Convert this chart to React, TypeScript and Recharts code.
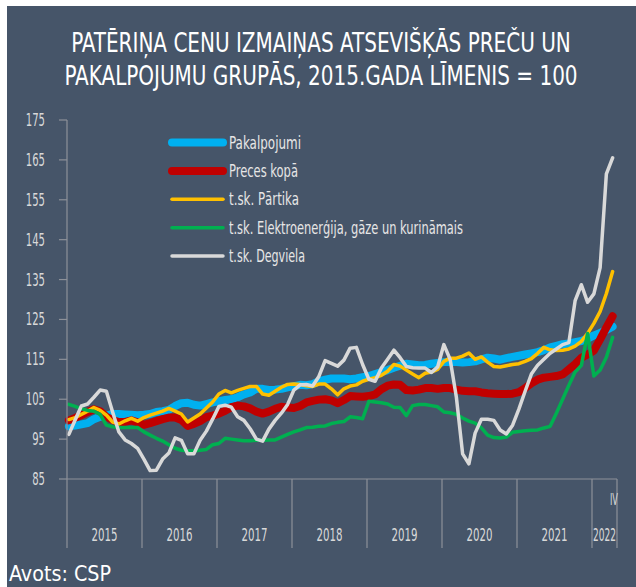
import React from 'react';
import { LineChart, Line, XAxis, YAxis } from 'recharts';

// monthly index, Jan 2015 .. Apr 2022 (2015 = 100)
const PAKALPOJUMI = [
  98.2, 98.4, 98.7, 99, 100, 100.6, 100.9, 101.3, 101.3, 101.2, 101.1, 101,
  101.1, 101.3, 101.8, 102, 102.3, 103.3, 104, 104.1, 103.6, 103.4, 103.8, 104.2,
  104.5, 104.8, 105, 105.5, 106.2, 106.7, 107.6, 107.6, 107.3, 107.4, 107.6, 108,
  108.3, 108.6, 108.5, 108.8, 109.5, 109.9, 110.2, 110.2, 110.2, 110, 110.2, 110.5,
  110.8, 111.3, 111.8, 112.3, 112.9, 113.4, 113.9, 113.7, 113.5, 113.6, 113.9, 114.1,
  114.3, 114.4, 114.3, 114.2, 114.3, 114.5, 115, 115.4, 115.2, 114.9, 115.3, 115.6,
  115.9, 116.2, 116.5, 116.8, 117.3, 118, 118.4, 118.8, 119, 119.3, 119.6, 120.2,
  121, 121.6, 122.4, 123.2,
];
const PRECES = [
  99.7, 100.3, 101, 101.8, 102.5, 102, 100.6, 99.8, 99.3, 99.3, 99.7, 99.2,
  98.6, 99, 99.5, 100, 100.4, 100.4, 99.8, 98.3, 98.8, 99.5, 100.5, 100.9,
  101.4, 102.1, 103, 103.4, 103.2, 102.7, 101.9, 101.4, 101.9, 102.6, 103.1, 102.9,
  102.8, 103.3, 104.2, 104.6, 104.9, 105, 104.7, 104, 104.8, 105.8, 105.7, 105.6,
  105.8, 106.2, 107.5, 108.4, 108.7, 108.6, 107.3, 107.2, 107.4, 107.8, 107.8, 107.6,
  107.8, 107.8, 107.4, 107.1, 107, 107, 106.7, 106.5, 106.4, 106.3, 106.3, 106.4,
  106.8, 107.8, 109, 109.9, 110.4, 110.6, 110.8, 111.2, 112.5, 113.8, 115.4, 116.2,
  117.2, 120, 123, 125.8,
];
const PARTIKA = [
  99.9, 100.4, 101.2, 102, 102.9, 102.2, 101, 99.3, 98.8, 99.6, 100.2, 99.5,
  100.4, 101, 101.5, 102, 102.7, 102, 101.3, 99.3, 100.3, 101.3, 102.8, 104.3,
  106.3, 107.2, 106.6, 107.2, 107.7, 108.2, 108.2, 106.3, 106, 107, 108, 108.7,
  108.8, 108.7, 108.4, 108.2, 108.8, 108.8, 107.6, 106.1, 107.6, 108.3, 108.6, 109.5,
  110, 110.4, 111, 112, 113.7, 113.3, 112.3, 111.3, 110.4, 111.5, 111.8, 112.5,
  114.5, 115.3, 115.3, 115.8, 116.6, 115, 115.6, 114.3, 113.2, 113.1, 113.4, 113.7,
  113.9, 114.5, 115.2, 116.5, 118, 117.4, 117.2, 117.3, 117.6, 118.3, 119.5, 121.5,
  124, 127, 131.5, 137,
];
const ELEKTRO = [
  103.7, 103.2, 102.6, 102.2, 102, 101.2, 98.5, 98.1, 97.9, 97.9, 97.9, 97.9,
  96.8, 96, 95.2, 94.5, 93.6, 92.7, 92.2, 92.1, 92.1, 92.2, 92.4, 93.6,
  93.9, 95.2, 95, 94.8, 94.6, 94.6, 94.7, 94.7, 94.8, 94.8, 95.5, 96.2,
  96.8, 97.3, 97.9, 98, 98.2, 98.3, 98.9, 99.2, 99.4, 100.6, 100.4, 100.1,
  104.5, 104.3, 104.1, 103.8, 103, 102.9, 100.9, 103.4, 103.7, 103.7, 103.4, 103.1,
  101.8, 101.6, 101.2, 100.3, 99.5, 99, 97.8, 96, 95.4, 95.3, 95.5, 96.7,
  96.9, 97.1, 97.2, 97.3, 97.8, 98.2, 101.5, 105, 108.5, 111.8, 113.5, 121.5,
  110.8, 112.3, 115.5, 120.5,
];
const DEGVIELA = [
  96.2, 99.8, 103.3, 103.8, 105.5, 107.3, 107, 101.8, 96.8, 94.8, 93.9, 92.7,
  90, 87.1, 87.2, 90, 91.5, 95.3, 94.7, 91.3, 91.3, 94.7, 97, 100,
  103.2, 103.5, 103, 100.6, 99.7, 97.6, 95, 94.5, 97.5, 99.7, 101.5, 103.7,
  107.3, 108.6, 108.7, 108.3, 110.7, 114.7, 114, 113.3, 114.8, 117.8, 118, 113.7,
  110, 109.5, 112.8, 115, 117.3, 115.4, 113.2, 112.9, 112.8, 112.8, 111.7, 113.1,
  118.7, 115, 105.5, 91.3, 88.8, 96.5, 100, 100, 99.7, 97.3, 96.3, 98.5,
  102.5, 107, 111.3, 113.5, 115, 116.5, 117.6, 118.7, 119.2, 129.7, 133.7, 129.3,
  131.4, 138, 161.5, 165.5,
];

const YEARS = ['2015', '2016', '2017', '2018', '2019', '2020', '2021', '2022'];
const LAST_QUARTER = 'IV';
const Y_TICKS = [85, 95, 105, 115, 125, 135, 145, 155, 165, 175];

const TITLE = [
  'PATĒRIŅA CENU IZMAIŅAS ATSEVIŠĶĀS PREČU UN',
  'PAKALPOJUMU GRUPĀS, 2015.GADA LĪMENIS = 100',
];
const SOURCE = 'Avots: CSP';

const SERIES = [
  { key: 'pak', name: 'Pakalpojumi', color: '#00b0f0', width: 8, textW: 72 },
  { key: 'pre', name: 'Preces kopā', color: '#c00000', width: 8, textW: 69 },
  { key: 'par', name: 't.sk. Pārtika', color: '#ffc000', width: 3.5, textW: 70 },
  { key: 'ele', name: 't.sk. Elektroenerģija, gāze un kurināmais', color: '#00b050', width: 3.5, textW: 234 },
  { key: 'deg', name: 't.sk. Degviela', color: '#d9d9d9', width: 3.5, textW: 76 },
];

const data = PAKALPOJUMI.map((v, i) => ({
  t: i + 0.3,
  pak: v,
  pre: PRECES[i],
  par: PARTIKA[i],
  ele: ELEKTRO[i],
  deg: DEGVIELA[i],
}));

const N_MONTHS = PAKALPOJUMI.length; // 88
const yearStart = YEARS.map((_, k) => k * 12);
const yearMid = YEARS.map((_, k) => (k * 12 + Math.min(k * 12 + 12, N_MONTHS)) / 2);
const X_TICKS = [...yearStart, N_MONTHS, ...yearMid, N_MONTHS - 0.5];

const FONT = "'Liberation Sans Narrow', 'DejaVu Sans Condensed', sans-serif";
const BG = '#465569';
const AXIS = '#8d9199';
const LABEL = '#d9d9d9';

const XTick = (props: any) => {
  const { x, y, payload } = props;
  const v = payload.value;
  if (yearStart.includes(v) || v === N_MONTHS) {
    return <line x1={x} y1={y} x2={x} y2={y + 69} stroke={AXIS} strokeWidth={1.2} />;
  }
  if (v === N_MONTHS - 0.5) {
    return (
      <text x={x} y={y + 26} textAnchor="middle" fill={LABEL} fontSize={16} fontFamily={FONT}
        textLength={8} lengthAdjust="spacingAndGlyphs">
        {LAST_QUARTER}
      </text>
    );
  }
  const idx = yearMid.indexOf(v);
  const label = YEARS[idx];
  const last = idx === YEARS.length - 1;
  return (
    <text x={x} y={y + 62} textAnchor="middle" fill={LABEL} fontSize={17} fontFamily={FONT}
      textLength={last ? 23 : 26} lengthAdjust="spacingAndGlyphs">
      {label}
    </text>
  );
};

const YTick = (props: any) => {
  const { x, y, payload } = props;
  const s = String(payload.value);
  return (
    <text x={x} y={y + 6} textAnchor="end" fill={LABEL} fontSize={17} fontFamily={FONT}
      textLength={s.length * 6.4} lengthAdjust="spacingAndGlyphs">
      {s}
    </text>
  );
};

export default function App() {
  return (
    <div style={{ position: 'absolute', left: 0, top: 0, width: 636, height: 587, background: '#ffffff' }}>
      <div style={{ position: 'absolute', left: 7, top: 6, right: 0, bottom: 0, background: BG }} />
      <div style={{ position: 'absolute', left: 0, top: 0 }}>
        <LineChart width={636} height={587} data={data}
          margin={{ top: 120, right: 19, bottom: 0, left: 0 }}>
          <XAxis dataKey="t" type="number" domain={[0, N_MONTHS]} ticks={X_TICKS} interval={0}
            axisLine={{ stroke: AXIS, strokeWidth: 1.2 }} tickLine={false} tickSize={0} tickMargin={0}
            tick={<XTick />} height={108} />
          <YAxis type="number" domain={[85, 175]} ticks={Y_TICKS} interval={0} width={67}
            axisLine={{ stroke: AXIS, strokeWidth: 1.2 }} tickLine={{ stroke: AXIS, strokeWidth: 1.2 }}
            tickSize={8} tickMargin={14} tick={<YTick />} />
          {SERIES.map((s) => (
            <Line key={s.key} type="linear" dataKey={s.key} name={s.name} stroke={s.color}
              strokeWidth={s.width} dot={false} activeDot={false} strokeLinejoin="round"
              strokeLinecap="round" isAnimationActive={false} />
          ))}
        </LineChart>
      </div>
      <div style={{ position: 'absolute', left: 0, top: 27, width: 642, textAlign: 'center', color: '#ffffff',
        fontFamily: FONT, fontSize: 26, lineHeight: '33px', pointerEvents: 'none',
        transform: 'scaleX(0.855)', transformOrigin: '321px 0' }}>
        {TITLE.map((line, i) => (
          <div key={i} style={{ whiteSpace: 'nowrap' }}>{line}</div>
        ))}
      </div>
      <svg width={636} height={587} style={{ position: 'absolute', left: 0, top: 0, pointerEvents: 'none' }}>
        {SERIES.map((s, i) => {
          const cy = 142.5 + i * 28.4;
          return (
            <g key={s.key}>
              <line x1={172} y1={cy} x2={223} y2={cy} stroke={s.color} strokeWidth={s.width}
                strokeLinecap="round" />
              <text x={229} y={cy + 6} fill="#e6e6e6" fontSize={18} fontFamily={FONT}
                textLength={s.textW} lengthAdjust="spacingAndGlyphs">
                {s.name}
              </text>
            </g>
          );
        })}
        <text x={9} y={581} fill="#ffffff" fontSize={21} fontFamily={FONT}
          textLength={102} lengthAdjust="spacingAndGlyphs">
          {SOURCE}
        </text>
      </svg>
    </div>
  );
}
